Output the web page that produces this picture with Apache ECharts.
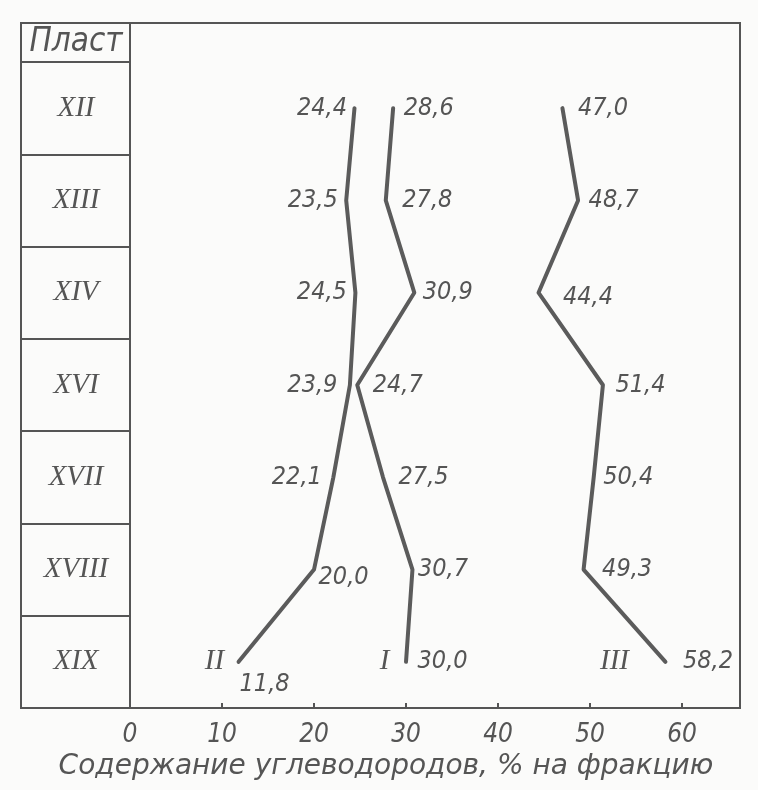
<!DOCTYPE html>
<html><head><meta charset="utf-8">
<script src="https://cdn.jsdelivr.net/npm/echarts@6/dist/echarts.min.js"></script>
<style>html,body{margin:0;padding:0;background:#fbfbfa}#c{width:758px;height:790px}</style>
</head><body><div id="c"></div>
<script>
// ---- data ----
const layers = ['XII', 'XIII', 'XIV', 'XVI', 'XVII', 'XVIII', 'XIX'];
const seriesI = [28.6, 27.8, 30.9, 24.7, 27.5, 30.7, 30.0];
const seriesII = [24.4, 23.5, 24.5, 23.9, 22.1, 20.0, 11.8];
const seriesIII = [47.0, 48.7, 44.4, 51.4, 50.4, 49.3, 58.2];
const seriesNames = ['I', 'II', 'III'];
const xTickValues = [0, 10, 20, 30, 40, 50, 60];
const headerText = 'Пласт';
const axisTitle = 'Содержание углеводородов, % на фракцию';

// ---- styles ----
const INK = '#555';
const LINE = '#5b5b5b';
const sansC = "'DejaVu Sans Condensed', 'Liberation Sans Narrow', 'DejaVu Sans', sans-serif";
const sans = "'DejaVu Sans', sans-serif";
const serif = "'Liberation Serif', 'DejaVu Serif', serif";

// per-point label placement (style only)
const labelPlacement = {
  I:   [['right',10],['right',16],['right',8],['right',15],['right',15],['right',5],['right',11]],
  II:  [['left',7],['left',8],['left',8],['left',12],['left',11],['right',4,[0,8]],['bottom',10,[26,0]]],
  III: [['right',15,[0,0]],['right',10],['right',24,[0,5]],['right',12],['right',9],['right',18],['right',17]]
};
const nameDistance = {I: 16, II: 14, III: 36};

function fmt(v) { return v.toFixed(1).replace('.', ','); }

function buildSeries(name, values) {
  const pl = labelPlacement[name];
  return {
    name: name,
    type: 'line',
    xAxisIndex: 0, yAxisIndex: 0,
    data: values.map((v, i) => ({
      value: v,
      label: {
        show: true,
        position: pl[i][0],
        distance: pl[i][1],
        offset: pl[i][2] || [0, 0],
        formatter: p => fmt(p.value),
        color: INK, fontSize: 25, fontStyle: 'italic', fontFamily: sansC
      }
    })),
    symbol: 'circle', symbolSize: 1,
    itemStyle: { color: 'rgba(0,0,0,0)' },
    lineStyle: { color: LINE, width: 4, cap: 'round', join: 'round' },
    emphasis: { disabled: true },
    animation: false,
    markPoint: {
      symbol: 'circle', symbolSize: 1,
      itemStyle: { color: 'rgba(0,0,0,0)' },
      label: {
        show: true, position: 'left', distance: nameDistance[name],
        formatter: name, color: INK, fontSize: 29, fontStyle: 'italic', fontFamily: serif
      },
      data: [{ coord: [values[values.length - 1], values.length - 1] }]
    }
  };
}

const chart = echarts.init(document.getElementById('c'), null, { renderer: 'canvas' });
chart.setOption({
  backgroundColor: '#fbfbfa',
  animation: false,
  title: {
    text: headerText, left: 71, top: 37, textAlign: 'center', textVerticalAlign: 'middle',
    textStyle: { color: INK, fontSize: 33, fontWeight: 'normal', fontStyle: 'italic', fontFamily: sansC }
  },
  grid: [
    { left: 130, right: 18, top: 62, bottom: 82, show: false },
    { left: 21, right: 18, top: 23, bottom: 82, show: true, borderColor: INK, borderWidth: 2, backgroundColor: 'transparent' },
    { left: 21, top: 23, width: 109, height: 39, show: true, borderColor: INK, borderWidth: 2, backgroundColor: 'transparent' }
  ],
  xAxis: [
    {
      gridIndex: 0, type: 'value', min: 0, max: 66.3, interval: 10,
      axisLine: { show: true, lineStyle: { color: INK, width: 2 } },
      axisTick: { show: true, inside: true, length: 5, lineStyle: { color: INK, width: 2 } },
      axisLabel: {
        show: true, margin: 14, showMaxLabel: false,
        formatter: v => (xTickValues.indexOf(v) >= 0 ? String(v) : ''),
        color: INK, fontSize: 26, fontStyle: 'italic', fontFamily: sansC
      },
      splitLine: { show: false },
      name: axisTitle, nameLocation: 'middle', nameGap: 37,
      nameTextStyle: { color: INK, fontSize: 28, fontStyle: 'italic', fontFamily: sans, padding: [0, 98, 0, 0] }
    },
    { gridIndex: 1, type: 'value', show: false },
    { gridIndex: 2, type: 'value', show: false }
  ],
  yAxis: [
    {
      gridIndex: 0, type: 'category', data: layers, inverse: true, boundaryGap: true,
      axisLine: { show: true, lineStyle: { color: INK, width: 2 } },
      axisTick: { show: true, inside: false, length: 109, lineStyle: { color: INK, width: 2 } },
      axisLabel: { show: true, margin: 54, align: 'center', color: INK, fontSize: 29, fontStyle: 'italic', fontFamily: serif },
      splitLine: { show: false }
    },
    { gridIndex: 1, type: 'value', show: false },
    { gridIndex: 2, type: 'value', show: false }
  ],
  series: [
    buildSeries(seriesNames[1], seriesII),
    buildSeries(seriesNames[0], seriesI),
    buildSeries(seriesNames[2], seriesIII)
  ]
});
</script>
</body></html>
